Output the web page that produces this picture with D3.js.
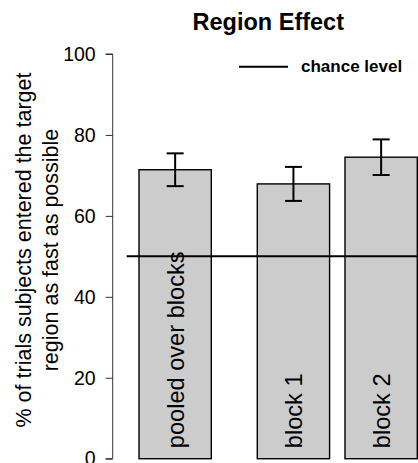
<!DOCTYPE html>
<html>
<head>
<meta charset="utf-8">
<script src="https://cdn.jsdelivr.net/npm/d3@7"></script>
<style>
  html, body { margin: 0; padding: 0; background: #fff; }
  svg { display: block; }
  text { font-family: "Liberation Sans", Arial, Helvetica, sans-serif; }
</style>
</head>
<body>
<svg id="chart" width="418" height="463"></svg>
<script>
// ---- data ----
const categories = ["pooled over blocks", "block 1", "block 2"];
const means = [71.4, 67.9, 74.5];
const errors = [4.05, 4.2, 4.4];
const chanceLevel = 50;
const yTicks = [0, 20, 40, 60, 80, 100];
const titleText = "Region Effect";
const yLabelLines = ["% of trials subjects entered the target", "region as fast as possible"];
const legendLabel = "chance level";

// ---- layout ----
const barGaps = [0, 0.636, 0.213]; // space before each bar, in bar widths
const svg = d3.select("#chart");

const y = d3.scaleLinear().domain([0, 100]).range([458.7, 54]);
// x in "bar width" units
const x = d3.scaleLinear().domain([0, 1]).range([139, 211.3]);

let acc = 0;
const lefts = barGaps.map((g) => { acc += g; const l = acc; acc += 1; return l; });

// bars
const bars = svg.append("g");
categories.forEach((c, i) => {
  bars.append("rect")
    .attr("x", x(lefts[i]))
    .attr("y", y(means[i]))
    .attr("width", x(lefts[i] + 1) - x(lefts[i]))
    .attr("height", y(0) - y(means[i]))
    .attr("fill", "#cccccc")
    .attr("stroke", "#000")
    .attr("stroke-width", 1.4);
});

// bar labels (rotated, inside bars)
categories.forEach((c, i) => {
  const cx = x(lefts[i] + 0.5) + 8.5;
  svg.append("text")
    .attr("transform", `translate(${cx},${y(0) - 10.5}) rotate(-90)`)
    .attr("text-anchor", "start")
    .attr("font-size", 23.6)
    .attr("fill", "#000")
    .text(c);
});

// chance line
svg.append("line")
  .attr("x1", x(-0.17)).attr("x2", x(4.3))
  .attr("y1", y(chanceLevel)).attr("y2", y(chanceLevel))
  .attr("stroke", "#000").attr("stroke-width", 2);

// error bars
const eb = svg.append("g").attr("stroke", "#000").attr("stroke-width", 2);
categories.forEach((c, i) => {
  const cx = x(lefts[i] + 0.5);
  const lo = y(means[i] - errors[i]), hi = y(means[i] + errors[i]);
  eb.append("line").attr("x1", cx).attr("x2", cx).attr("y1", lo).attr("y2", hi);
  eb.append("line").attr("x1", cx - 8.5).attr("x2", cx + 8.5).attr("y1", lo).attr("y2", lo);
  eb.append("line").attr("x1", cx - 8.5).attr("x2", cx + 8.5).attr("y1", hi).attr("y2", hi);
});

// y axis
const yAxis = d3.axisLeft(y).tickValues(yTicks).tickSize(7).tickPadding(10).tickFormat(d3.format("d"));
const gy = svg.append("g").attr("transform", "translate(112.7,0)").call(yAxis);
gy.select(".domain").attr("stroke", "#333").attr("d", `M-7,${y(100)}H0V${y(0)}H-7`);
gy.selectAll(".tick line").attr("stroke", "#333");
gy.selectAll(".tick text")
  .attr("font-size", 19.5)
  .attr("fill", "#000")
  .attr("font-family", "Liberation Sans, Arial, sans-serif");

// y label
const ylab = svg.append("text")
  .attr("transform", `translate(0,250) rotate(-90)`)
  .attr("text-anchor", "middle")
  .attr("font-size", 21.5)
  .attr("fill", "#000");
ylab.append("tspan").attr("x", 0).attr("y", 31).text(yLabelLines[0]);
ylab.append("tspan").attr("x", 0).attr("y", 58).text(yLabelLines[1]);

// title
svg.append("text")
  .attr("x", 268.3).attr("y", 29.5)
  .attr("text-anchor", "middle")
  .attr("font-size", 23.5)
  .attr("font-weight", "bold")
  .attr("fill", "#000")
  .text(titleText);

// legend
svg.append("line")
  .attr("x1", 239).attr("x2", 288)
  .attr("y1", 66.7).attr("y2", 66.7)
  .attr("stroke", "#000").attr("stroke-width", 2);
svg.append("text")
  .attr("x", 301).attr("y", 71.7)
  .attr("font-size", 17)
  .attr("font-weight", "bold")
  .attr("fill", "#000")
  .text(legendLabel);
</script>
</body>
</html>
